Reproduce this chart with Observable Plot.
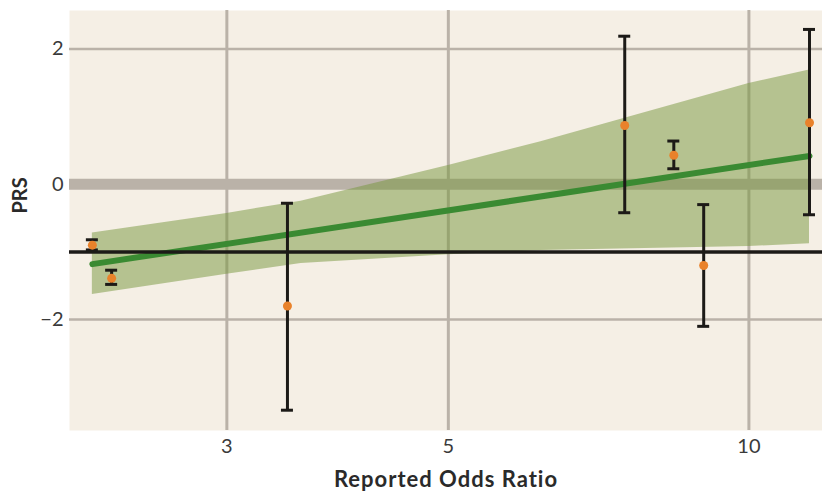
<!DOCTYPE html>
<html>
<head>
<meta charset="utf-8">
<script src="https://cdn.jsdelivr.net/npm/d3@7"></script>
<script src="https://cdn.jsdelivr.net/npm/@observablehq/plot@0.6"></script>
<style>
  html, body { margin: 0; padding: 0; background: #ffffff; }
  #chart { width: 822px; height: 492px; }
</style>
</head>
<body>
<div id="chart"></div>
<script>
// Study estimates
const oddsRatio = [2.20, 2.30, 3.45, 7.51, 8.41, 9.01, 11.50];
const prsValue  = [-0.90, -1.39, -1.80, 0.87, 0.43, -1.20, 0.91];
const prsLow    = [-0.97, -1.48, -3.34, -0.42, 0.23, -2.10, -0.45];
const prsHigh   = [-0.82, -1.27, -0.28, 2.19, 0.64, -0.30, 2.29];

// Regression fit and confidence band
const fitX = [2.20, 11.50];
const fitY = [-1.18, 0.42];
const bandX    = [2.20, 3.00, 3.56, 5.00, 6.19, 10.00, 11.50];
const bandLow  = [-1.63, -1.33, -1.17, -1.04, -0.98, -0.92, -0.88];
const bandHigh = [-0.72, -0.43, -0.25, 0.28, 0.63, 1.49, 1.69];

// Axes
const xTicks = [3, 5, 10];
const yTicks = [-2, 0, 2];
const refLine = [-1];
const zeroLine = [0];
const xLabel = "Reported Odds Ratio";
const yLabel = "PRS";

const studies = oddsRatio.map((x, i) => ({x, y: prsValue[i], lo: prsLow[i], hi: prsHigh[i]}));
const fit = fitX.map((x, i) => ({x, y: fitY[i]}));
const band = bandX.map((x, i) => ({x, lo: bandLow[i], hi: bandHigh[i]}));

const grid = "#bab2a8";
const font = "Lato, 'Open Sans', sans-serif";
const fmt = d => (d < 0 ? "\u2212" : "") + Math.abs(d);

const chart = Plot.plot({
  width: 822,
  height: 492,
  marginLeft: 69,
  marginRight: 0,
  marginTop: 10,
  marginBottom: 62,
  style: {fontFamily: font, background: "#ffffff"},
  x: {type: "log", domain: [2.087, 11.85], nice: false},
  y: {domain: [-3.64, 2.57], nice: false},
  marks: [
    Plot.frame({fill: "#f5efe5", stroke: "none"}),
    Plot.ruleX(xTicks, {stroke: grid, strokeWidth: 3}),
    Plot.ruleY(yTicks.filter(d => d !== 0), {stroke: grid, strokeWidth: 2.5}),
    Plot.ruleY(zeroLine, {stroke: grid, strokeWidth: 11}),
    Plot.areaY(band, {x: "x", y1: "lo", y2: "hi", fill: "#76963c", fillOpacity: 0.5}),
    Plot.line(fit, {x: "x", y: "y", stroke: "#3a8a32", strokeWidth: 6}),
    Plot.ruleY(refLine, {stroke: "#1c1a17", strokeWidth: 3.5}),
    Plot.ruleX(studies, {x: "x", y1: "lo", y2: "hi", stroke: "#1c1a17", strokeWidth: 3}),
    Plot.ruleY(studies, {y: "lo", x1: "x", x2: "x", insetLeft: -6, insetRight: -6, stroke: "#1c1a17", strokeWidth: 3}),
    Plot.ruleY(studies, {y: "hi", x1: "x", x2: "x", insetLeft: -6, insetRight: -6, stroke: "#1c1a17", strokeWidth: 3}),
    Plot.dot(studies, {x: "x", y: "y", r: 4.5, fill: "#e9822b", stroke: "none"}),
    Plot.axisX(xTicks, {tickSize: 0, tickPadding: 8, fontSize: 20, color: "#3a3a3a", label: null, tickFormat: fmt}),
    Plot.axisY(yTicks, {tickSize: 0, tickPadding: 6, fontSize: 20, color: "#3a3a3a", label: null, tickFormat: fmt}),
    Plot.text([xLabel], {text: d => d, frameAnchor: "bottom", textAnchor: "middle", dy: 56, fontSize: 22, fontWeight: "bold", fill: "#2a2a2a"}),
    Plot.text([yLabel], {text: d => d, frameAnchor: "left", textAnchor: "middle", dx: -49, dy: -25, rotate: -90, fontSize: 20, fontWeight: "bold", fill: "#2a2a2a"})
  ]
});
d3.select(chart).selectAll("text")
  .filter(function() { return this.textContent === xLabel; })
  .attr("letter-spacing", "1px");
document.getElementById("chart").appendChild(chart);
</script>
</body>
</html>
